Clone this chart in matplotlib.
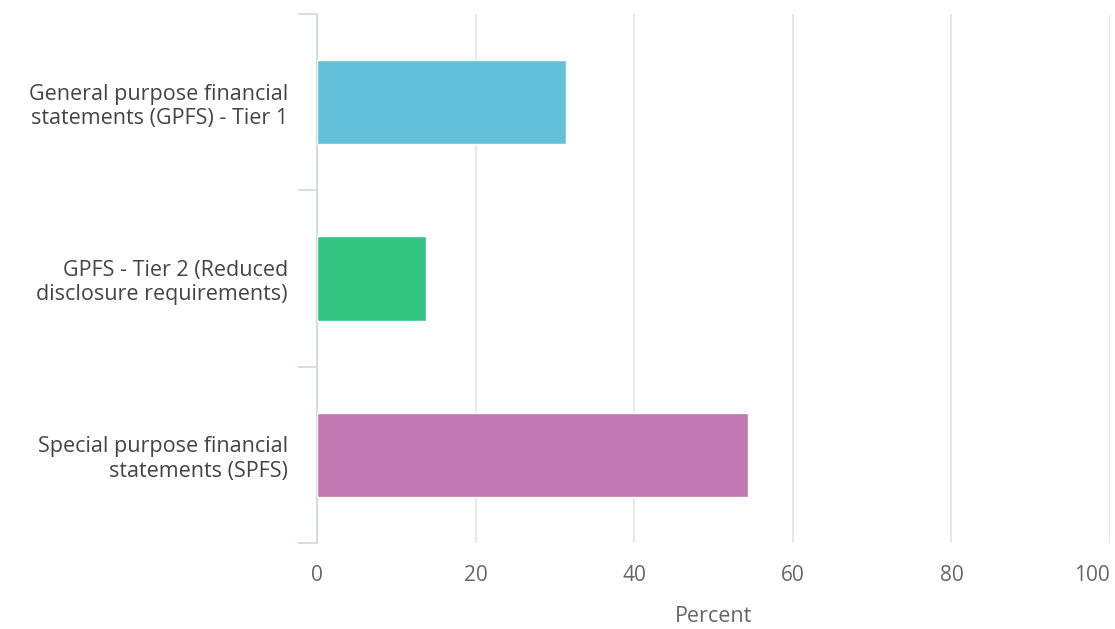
import matplotlib
matplotlib.use('Agg')
import matplotlib.pyplot as plt
import numpy as np

categories = ['General purpose financial\nstatements (GPFS) - Tier 1',
              'GPFS - Tier 2 (Reduced\ndisclosure requirements)',
              'Special purpose financial\nstatements (SPFS)']
values = [31.4, 13.7, 54.3]
colors = ['#63c0d9', '#33c481', '#c177b1']
xticks = [0, 20, 40, 60, 80, 100]

plt.rcParams['font.family'] = ['Open Sans', 'DejaVu Sans']

fig = plt.figure(figsize=(11.15, 6.29), dpi=100)
ax = fig.add_axes([317/1115, 1-543/629, 793/1115, 529/629])

y = np.arange(len(categories))
ax.barh(y, values, height=0.48, color=colors, edgecolor='white', linewidth=1, zorder=3)
ax.set_ylim(len(categories)-0.5, -0.5)
ax.set_xlim(0, 100)

ax.set_xticks(xticks)
ax.set_xticklabels([str(t) for t in xticks], fontsize=15, color='#666666')
ax.get_xticklabels()[-1].set_horizontalalignment('right')
ax.tick_params(axis='x', length=0, pad=16)
ax.grid(axis='x', color='#e6e6e6', linewidth=1.3, zorder=0)

ax.set_yticks(y)
ax.set_yticklabels(categories, fontsize=15.5, color='#444444', linespacing=1.2)
ax.tick_params(axis='y', length=0, pad=21)
# category boundary ticks
ax.set_yticks(np.arange(-0.5, len(categories)), minor=True)
ax.tick_params(axis='y', which='minor', length=14, width=1.2, color='#ccd6eb')

for s in ['top', 'right', 'bottom']:
    ax.spines[s].set_visible(False)
ax.spines['left'].set_color('#ccd6eb')
ax.spines['left'].set_linewidth(1.2)

ax.set_xlabel('Percent', fontsize=15.5, color='#666666', labelpad=14)

fig.savefig('out.png', dpi=100)
